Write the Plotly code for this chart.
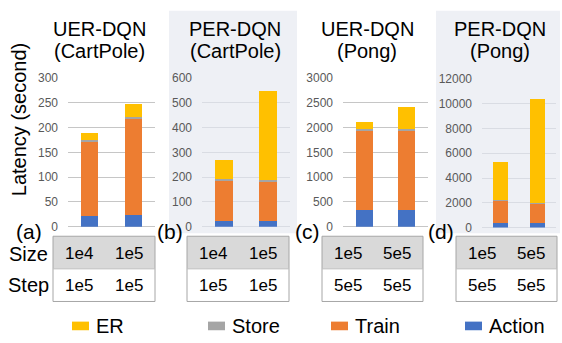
import plotly.graph_objects as go

W, H = 562, 343

# ---- data ----------------------------------------------------------------
panel_letters = ["(a)", "(b)", "(c)", "(d)"]
panel_algos = ["UER-DQN", "PER-DQN", "UER-DQN", "PER-DQN"]
panel_envs = ["(CartPole)", "(CartPole)", "(Pong)", "(Pong)"]

size_labels = [["1e4", "1e5"], ["1e4", "1e5"], ["1e5", "5e5"], ["1e5", "5e5"]]
step_labels = [["1e5", "1e5"], ["1e5", "1e5"], ["5e5", "5e5"], ["5e5", "5e5"]]

action = [[22, 23], [22, 22], [345, 345], [340, 340]]
train = [[149, 195], [163, 161], [1595, 1600], [1880, 1640]]
store = [[3.5, 2.5], [6, 6], [25, 20], [30, 30]]
er = [[13.5, 26], [79, 359], [140, 450], [3070, 8390]]

y_max = [300, 600, 3000, 12000]
y_step = [50, 100, 500, 2000]

legend_names = ["ER", "Store", "Train", "Action"]

# ---- styling -------------------------------------------------------------
FONT = "Liberation Sans, Arial, sans-serif"
colors = {"ER": "#FFC000", "Store": "#A5A5A5", "Train": "#ED7D31", "Action": "#4472C4"}
shaded = [False, True, False, True]
grid_dark, grid_light = "#C6C6C6", "#D9DCE3"
panel_bg = "#EEF0F5"

# plot areas in pixels: (left, right, top, bottom)
areas = [(68, 155, 74, 229), (202, 290, 74, 229), (343, 428, 74, 229), (482, 556, 75, 230)]
titles_x = [99, 235, 367, 500]
letters_x = [29, 170, 307, 441]
tables = [(53, 155), (187, 289), (322, 423), (456, 557)]
tbl_top, tbl_mid, tbl_bot = 239, 273, 307
legend_key_x = [72, 208, 331, 465]


def px(x):
    return x / W


def py(y):
    return (H - y) / H


fig = go.Figure()

series = [("Action", action), ("Train", train), ("Store", store), ("ER", er)]
for i in range(4):
    ax = "" if i == 0 else str(i + 1)
    for name, vals in series:
        fig.add_trace(go.Bar(
            x=[0, 1], y=vals[i], name=name,
            marker=dict(color=colors[name], line=dict(width=0)),
            xaxis="x" + ax, yaxis="y" + ax,
            legendgroup=name, showlegend=False,
        ))

layout = dict(
    width=W, height=H, margin=dict(l=0, r=0, t=0, b=0),
    paper_bgcolor="white", plot_bgcolor="rgba(0,0,0,0)",
    barmode="stack", bargap=0.61,
    font=dict(family=FONT, color="#000000"),
    showlegend=False,
)

shapes = []
annotations = []


def text(s, x, y, size, **kw):
    d = dict(text=s, x=px(x), y=py(y), xref="paper", yref="paper",
             showarrow=False, xanchor="center", yanchor="middle", borderpad=0,
             font=dict(size=size, family=FONT, color="#000000"))
    d.update(kw)
    annotations.append(d)


for i in range(4):
    l, r, t, b = areas[i]
    ax = "" if i == 0 else str(i + 1)
    gc = grid_light if shaded[i] else grid_dark
    layout["xaxis" + ax] = dict(
        domain=[px(l), px(r)], range=[-0.5, 1.5], anchor="y" + ax,
        showticklabels=False, showgrid=False, zeroline=False, ticks="",
        fixedrange=True,
    )
    layout["yaxis" + ax] = dict(
        domain=[py(b), py(t)], range=[0, y_max[i]], anchor="x" + ax,
        dtick=y_step[i], tick0=0, tickformat="d",
        showgrid=True, gridcolor=gc, gridwidth=1,
        zeroline=True, zerolinecolor=gc, zerolinewidth=1,
        ticks="", ticklabelstandoff=9,
        tickfont=dict(size=12, color="#595959", family=FONT),
        fixedrange=True,
    )

    if shaded[i]:
        x0 = 169 if i == 1 else 436
        x1 = 297 if i == 1 else 560
        shapes.append(dict(type="rect", xref="paper", yref="paper",
                           x0=px(x0), x1=px(x1), y0=py(236), y1=py(4),
                           fillcolor=panel_bg, line=dict(width=0), layer="below"))

    # two-line panel title
    text(panel_algos[i], titles_x[i], 23.3, 20)
    text(panel_envs[i], titles_x[i], 45.7, 20)
    # panel letter
    text(panel_letters[i], letters_x[i], 234, 21)

    # table below each panel
    tl, tr = tables[i]
    shapes.append(dict(type="rect", xref="paper", yref="paper",
                       x0=px(tl), x1=px(tr), y0=py(tbl_mid), y1=py(tbl_top),
                       fillcolor="#D9D9D9", line=dict(width=0)))
    shapes.append(dict(type="rect", xref="paper", yref="paper",
                       x0=px(tl), x1=px(tr), y0=py(tbl_bot), y1=py(tbl_top),
                       fillcolor="rgba(0,0,0,0)", line=dict(color="#A6A6A6", width=1)))
    shapes.append(dict(type="line", xref="paper", yref="paper",
                       x0=px(tl), x1=px(tr), y0=py(tbl_mid), y1=py(tbl_mid),
                       line=dict(color="#BFBFBF", width=1)))
    for j, cx in enumerate([tl + 26, tr - 26]):
        text(size_labels[i][j], cx, 257, 17)
        text(step_labels[i][j], cx, 290, 17)

# row headers
text("Size", 28, 257, 20)
text("Step", 28, 290, 20)

# shared y-axis title
text("Latency (second)", 19, 118, 20, textangle=-90)

# legend keys along the bottom
for name, kx in zip(legend_names, legend_key_x):
    shapes.append(dict(type="rect", xref="paper", yref="paper",
                       x0=px(kx), x1=px(kx + 17), y0=py(337), y1=py(328),
                       fillcolor=colors[name], line=dict(width=0)))
    text(name, kx + 23, 333, 20, xanchor="left")

layout["shapes"] = shapes
layout["annotations"] = annotations
fig.update_layout(**layout)

fig.write_html("out.html")
